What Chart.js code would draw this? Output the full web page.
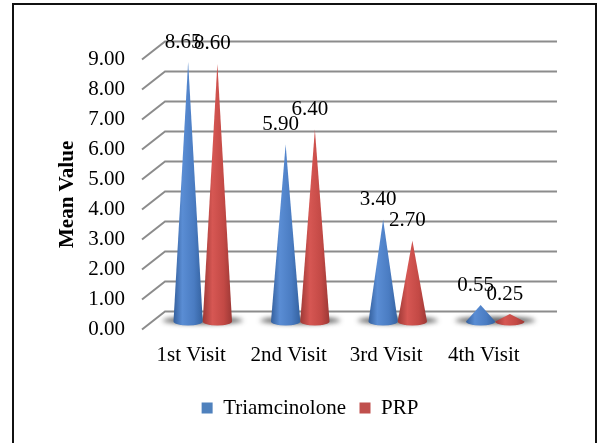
<!DOCTYPE html>
<html>
<head>
<meta charset="utf-8">
<script src="https://cdn.jsdelivr.net/npm/chart.js@4.4.1/dist/chart.umd.min.js"></script>
<style>
  html, body { margin: 0; padding: 0; background: #fff; }
  #wrap { width: 598px; height: 443px; }
</style>
</head>
<body>
<div id="wrap"><canvas id="chart" width="598" height="443"></canvas></div>
<script>
// --- Data ---
const visits = ['1st Visit', '2nd Visit', '3rd Visit', '4th Visit'];
const triamcinolone = [8.65, 5.90, 3.40, 0.55];
const prp = [8.60, 6.40, 2.70, 0.25];
const yTicks = [0, 1, 2, 3, 4, 5, 6, 7, 8, 9];

const FONT = '"Liberation Serif", "Times New Roman", serif';
const BLUE = '#4F81BD';
const RED = '#C0504D';

Chart.defaults.font.family = FONT;
Chart.defaults.color = '#000';

// cone shading stops, left to right
const coneShades = {
    [BLUE]: [[0, '#345f9c'], [0.3, '#5a8dd4'], [0.7, '#4a7cc2'], [1, '#3462a0']],
    [RED]: [[0, '#9e3936'], [0.33, '#d65753'], [0.72, '#c34945'], [1, '#9c3835']],
};

// 3D box offsets relative to the plane the cones stand in
const FRONT = { dx: -12, dy: 8 };
const BACK = { dx: 11, dy: -10 };
const BACK_RIGHT = 13;

const drawCone = (ctx, el, color) => {
    const { x, y, base, width } = el;
    const hw = width / 2;
    const g = ctx.createLinearGradient(x - hw, 0, x + hw, 0);
    coneShades[color].forEach(([at, c]) => g.addColorStop(at, c));
    ctx.beginPath();
    ctx.moveTo(x - hw, base);
    ctx.lineTo(x, y);
    ctx.lineTo(x + hw, base);
    ctx.ellipse(x, base, hw, 4, 0, 0, Math.PI);
    ctx.closePath();
    ctx.fillStyle = g;
    ctx.fill();
};

const conePlugin = {
    id: 'cones',
    beforeDraw(chart) {
        const { ctx, width, height } = chart;
        ctx.save();
        ctx.fillStyle = '#fff';
        ctx.fillRect(0, 0, width, height);
        ctx.strokeStyle = '#111';
        ctx.lineWidth = 2;
        ctx.strokeRect(13, 4, 583, height + 10);
        ctx.restore();
    },
    beforeDatasetsDraw(chart) {
        const { ctx, chartArea, scales: { y } } = chart;
        ctx.save();
        // walls: diagonal on the side wall, horizontal on the back wall
        ctx.strokeStyle = '#8c8c8c';
        ctx.lineWidth = 2;
        y.ticks.forEach(t => {
            const py = y.getPixelForValue(t.value);
            ctx.beginPath();
            ctx.moveTo(chartArea.left + FRONT.dx, py + FRONT.dy);
            ctx.lineTo(chartArea.left + BACK.dx, py + BACK.dy);
            ctx.lineTo(chartArea.right + BACK_RIGHT, py + BACK.dy);
            ctx.stroke();
        });
        // floor shadows under each pair of cones
        const metas = chart.getSortedVisibleDatasetMetas();
        ctx.filter = 'blur(2.5px)';
        ctx.fillStyle = 'rgba(35,35,35,0.75)';
        visits.forEach((_, i) => {
            const els = metas.map(m => m.data[i]);
            const l = Math.min(...els.map(e => e.x - e.width / 2));
            const r = Math.max(...els.map(e => e.x + e.width / 2));
            ctx.beginPath();
            ctx.ellipse((l + r) / 2, els[0].base - 1, (r - l) / 2 + 11, 3.5, 0, 0, Math.PI * 2);
            ctx.fill();
        });
        ctx.restore();
    },
    beforeDatasetDraw() {
        return false;
    },
    afterDatasetsDraw(chart) {
        const { ctx } = chart;
        const metas = chart.getSortedVisibleDatasetMetas();
        ctx.save();
        metas.forEach(m => {
            const color = chart.data.datasets[m.index].backgroundColor;
            m.data.forEach(el => drawCone(ctx, el, color));
        });
        // value labels
        ctx.fillStyle = '#000';
        ctx.font = `21px ${FONT}`;
        ctx.textAlign = 'center';
        ctx.textBaseline = 'middle';
        metas.forEach(m => {
            const values = chart.data.datasets[m.index].data;
            m.data.forEach((el, i) => {
                ctx.fillText(values[i].toFixed(2), el.x - 5, el.y - 20);
            });
        });
        ctx.restore();
    }
};

new Chart(document.getElementById('chart'), {
    type: 'bar',
    data: {
        labels: visits,
        datasets: [
            { label: 'Triamcinolone', data: triamcinolone, backgroundColor: BLUE, borderWidth: 0,
              categoryPercentage: 0.6, barPercentage: 1.0 },
            { label: 'PRP', data: prp, backgroundColor: RED, borderWidth: 0,
              categoryPercentage: 0.6, barPercentage: 1.0 },
        ]
    },
    options: {
        responsive: false,
        animation: false,
        devicePixelRatio: 1,
        layout: { padding: { left: 76, right: 54, top: 51.5, bottom: 14.5 } },
        plugins: {
            legend: {
                position: 'bottom',
                labels: {
                    boxWidth: 11,
                    boxHeight: 11,
                    padding: 13.5,
                    color: '#000',
                    font: { family: FONT, size: 21 },
                }
            },
            tooltip: { enabled: false },
        },
        scales: {
            x: {
                grid: { display: false, drawTicks: false },
                border: { display: false },
                ticks: { padding: 21, labelOffset: -11.5, color: '#000', font: { family: FONT, size: 21 } },
                afterFit(s) { s.height = 62.5; },
            },
            y: {
                min: 0,
                max: 9,
                afterBuildTicks(s) { s.ticks = yTicks.map(v => ({ value: v })); },
                grid: { display: false, drawTicks: false },
                border: { display: false },
                ticks: {
                    padding: 29,
                    labelOffset: 8,
                    color: '#000',
                    font: { family: FONT, size: 21 },
                    callback: v => Number(v).toFixed(2),
                },
                title: {
                    display: true,
                    // trailing spaces nudge the rotated title down a little
                    text: 'Mean Value\u00a0\u00a0\u00a0',
                    color: '#000',
                    font: { family: FONT, size: 21, weight: 'bold' },
                    padding: { top: -20.6, bottom: 0 },
                },
                afterFit(s) { s.width = 78; },
            }
        }
    },
    plugins: [conePlugin]
});
</script>
</body>
</html>
